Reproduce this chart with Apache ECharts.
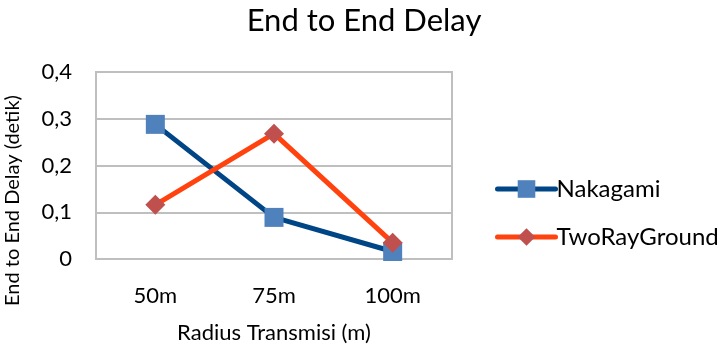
<!DOCTYPE html>
<html>
<head>
<meta charset="utf-8">
<script src="https://cdn.jsdelivr.net/npm/echarts@6/dist/echarts.min.js"></script>
<style>
html,body{margin:0;padding:0;background:#fff;}
#chart{width:720px;height:347px;}
</style>
</head>
<body>
<div id="chart"></div>
<script>
// Delay per transmission radius for each propagation model
var categories = ['50m', '75m', '100m'];
var nakagami = [0.288, 0.089, 0.016];
var twoRayGround = [0.116, 0.268, 0.035];
var yTicks = [0, 0.1, 0.2, 0.3, 0.4];

var FONT = 'Lato, "Open Sans", sans-serif';
var chart = echarts.init(document.getElementById('chart'));

chart.setOption({
  animation: false,
  backgroundColor: '#ffffff',
  title: {
    text: 'End to End Delay',
    left: 359,
    textAlign: 'center',
    top: 0,
    textStyle: { fontFamily: FONT, fontSize: 31, fontWeight: 'normal', color: '#000' }
  },
  legend: {
    orient: 'vertical',
    left: 490,
    top: 172,
    itemWidth: 58,
    itemHeight: 22,
    itemGap: 24,
    lineStyle: { width: 5, cap: 'round' },
    textStyle: { fontFamily: FONT, fontSize: 24, color: '#000', padding: [0, 0, 0, -4] },
    data: ['Nakagami', 'TwoRayGround']
  },
  grid: {
    left: 96,
    right: 268,
    top: 72,
    bottom: 88,
    outerBoundsMode: 'none',
    show: true,
    borderColor: '#bfbfbf',
    borderWidth: 2
  },
  xAxis: {
    type: 'category',
    data: categories,
    boundaryGap: true,
    name: 'Radius Transmisi (m)',
    nameLocation: 'middle',
    nameGap: 63,
    nameTextStyle: { fontFamily: FONT, fontSize: 22, color: '#000' },
    axisLine: { lineStyle: { color: '#bfbfbf', width: 2 } },
    axisTick: { show: false },
    axisLabel: { fontFamily: FONT, fontSize: 22, color: '#000', margin: 26 }
  },
  yAxis: {
    type: 'value',
    min: yTicks[0],
    max: yTicks[yTicks.length - 1],
    interval: 0.1,
    name: 'End to End Delay (detik)',
    nameLocation: 'middle',
    nameGap: 73,
    nameTextStyle: { fontFamily: FONT, fontSize: 20, color: '#000', padding: [0, 70, 0, 0] },
    axisLine: { show: false },
    axisTick: { show: false },
    splitLine: { lineStyle: { color: '#bfbfbf', width: 2 } },
    axisLabel: {
      fontFamily: FONT, fontSize: 22, color: '#000', margin: 24,
      formatter: function (v) {
        return v === 0 ? '0' : v.toFixed(1).replace('.', ',');
      }
    }
  },
  series: [
    {
      name: 'Nakagami',
      type: 'line',
      data: nakagami,
      symbol: 'rect',
      symbolSize: 19,
      lineStyle: { color: '#004586', width: 5 },
      itemStyle: { color: '#4f81bd', borderWidth: 0 },
      z: 2
    },
    {
      name: 'TwoRayGround',
      type: 'line',
      data: twoRayGround,
      symbol: 'diamond',
      symbolSize: [20, 20],
      lineStyle: { color: '#ff420e', width: 5 },
      itemStyle: { color: '#c0504d', borderWidth: 0 },
      z: 3
    }
  ]
});
</script>
</body>
</html>
